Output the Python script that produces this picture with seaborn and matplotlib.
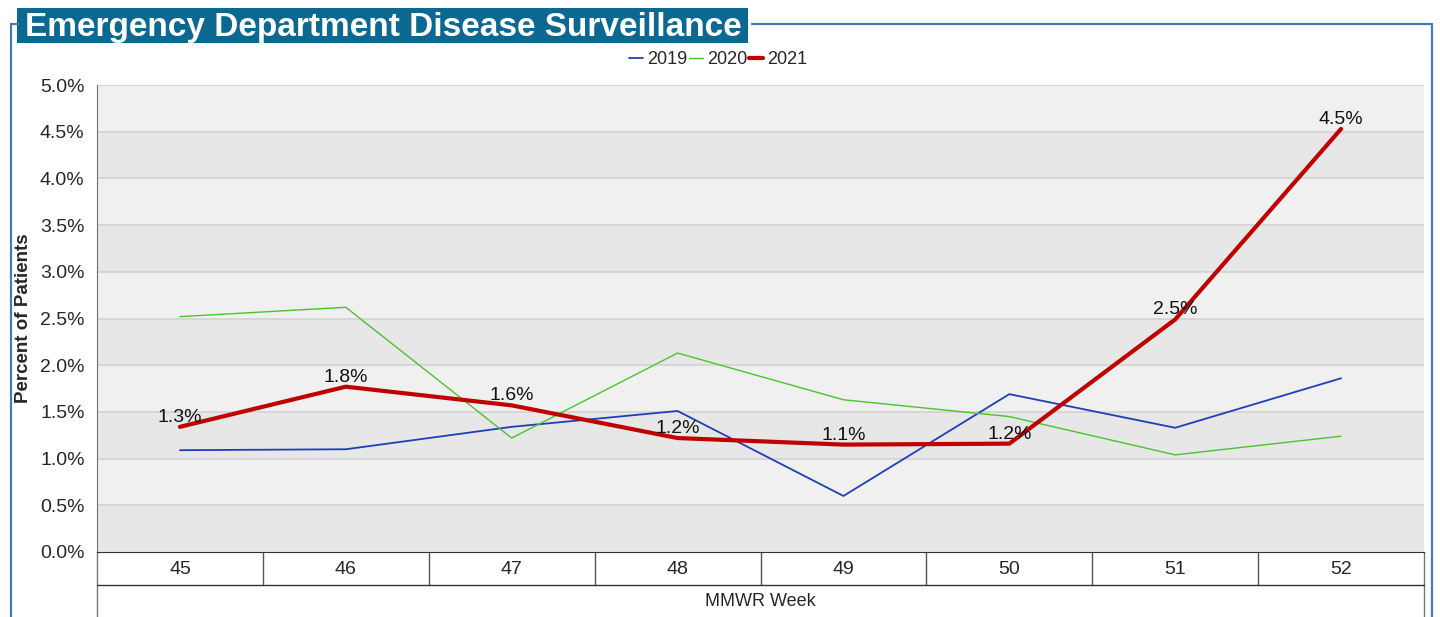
import matplotlib
matplotlib.use("Agg")
import matplotlib.pyplot as plt
import matplotlib.transforms as mtransforms
from matplotlib.patches import Rectangle
from matplotlib.lines import Line2D
import seaborn as sns
import pandas as pd

weeks = ["45", "46", "47", "48", "49", "50", "51", "52"]
y2019 = [1.09, 1.10, 1.34, 1.51, 0.60, 1.69, 1.33, 1.86]
y2020 = [2.52, 2.62, 1.22, 2.13, 1.63, 1.45, 1.04, 1.24]
y2021 = [1.34, 1.77, 1.57, 1.22, 1.15, 1.16, 2.49, 4.53]
labels2021 = ["1.3%", "1.8%", "1.6%", "1.2%", "1.1%", "1.2%", "2.5%", "4.5%"]
yticks = [0.0, 0.5, 1.0, 1.5, 2.0, 2.5, 3.0, 3.5, 4.0, 4.5, 5.0]
title = "Emergency Department Disease Surveillance"
xlabel = "MMWR Week"
ylabel = "Percent of Patients"

sns.set_style("white")
plt.rcParams["font.family"] = ["Liberation Sans", "DejaVu Sans"]

W, H = 1440, 617
fig = plt.figure(figsize=(W / 100, H / 100), dpi=100)
L, R, T, B = 97, 1424, 85, 552
ax = fig.add_axes([L / W, 1 - B / H, (R - L) / W, (B - T) / H])

x = list(range(len(weeks)))
df = pd.DataFrame({"x": x * 3,
                   "v": y2019 + y2020 + y2021,
                   "year": ["2019"] * 8 + ["2020"] * 8 + ["2021"] * 8})

# alternating bands
for i in range(len(yticks) - 1):
    c = "#e7e7e7" if i % 2 == 0 else "#f0f0f0"
    ax.axhspan(yticks[i], yticks[i + 1], color=c, zorder=0, lw=0)
for yv in yticks[1:]:
    ax.axhline(yv, color="#d2d2d2", lw=1.2, zorder=0.5)

colors = {"2019": "#1f3fb5", "2020": "#4cc32a", "2021": "#c00000"}
widths = {"2019": 1.3, "2020": 1.0, "2021": 3.0}
for yr in ["2019", "2020", "2021"]:
    sns.lineplot(data=df[df.year == yr], x="x", y="v", ax=ax, color=colors[yr],
                 lw=widths[yr], legend=False, zorder=3 if yr == "2021" else 2)

for xi, v, lab in zip(x, y2021, labels2021):
    ax.annotate(lab, (xi, v), xytext=(0, 3.6), textcoords="offset points",
                ha="center", va="baseline", fontsize=14, color="#111111", zorder=4)

ax.set_xlim(-0.5, len(weeks) - 0.5)
ax.set_ylim(0, 5)
ax.set_yticks(yticks)
ax.set_yticklabels([f"{t:.1f}%" for t in yticks], fontsize=14)
ax.tick_params(axis="y", length=8, width=1, color="#707070", direction="out", pad=1)
ax.set_xticks([])
ax.set_xlabel("")
ax.set_ylabel(ylabel, fontsize=13.5, fontweight="bold")
ax.yaxis.set_label_coords((32 - L) / (R - L), 0.5)
for s in ["top", "right"]:
    ax.spines[s].set_visible(False)
ax.spines["left"].set_color("#707070")
ax.spines["bottom"].set_color("#333333")

# category table below the axis
trans = mtransforms.blended_transform_factory(ax.transData, fig.transFigure)
yf = lambda p: 1 - p / H
row1 = 585
for xi in range(len(weeks) + 1):
    xb = xi - 0.5
    inner = 0 < xi < len(weeks)
    ybot = yf(row1) if inner else 0
    ax.add_line(Line2D([xb, xb], [yf(B), ybot], transform=trans,
                       color="#555555" if inner else "#777777", lw=1, clip_on=False))
ax.add_line(Line2D([-0.5, len(weeks) - 0.5], [yf(row1), yf(row1)], transform=trans,
                   color="#333333", lw=1, clip_on=False))
for xi, w in zip(x, weeks):
    ax.text(xi, yf(569.5), w, transform=trans, ha="center", va="center", fontsize=14)
ax.text((len(weeks) - 1) / 2, yf(601), xlabel, transform=trans, ha="center", va="center", fontsize=13)

# outer frame
fc = "#4a78b2"
fig.add_artist(Line2D([10.5 / W, 10.5 / W], [yf(24), 0], color=fc, lw=1.6))
fig.add_artist(Line2D([10.5 / W, 18 / W], [yf(24), yf(24)], color=fc, lw=1.6))
fig.add_artist(Line2D([752 / W, 1432 / W], [yf(24), yf(24)], color=fc, lw=1.6))
fig.add_artist(Line2D([1432 / W, 1432 / W], [yf(24), 0], color=fc, lw=1.6))

# title box
fig.add_artist(Rectangle((17 / W, yf(43)), (748 - 17) / W, 35 / H, transform=fig.transFigure,
                         facecolor="#0b6890", edgecolor="none"))
fig.text(25 / W, yf(27.5), title, ha="left", va="center", color="white",
         fontsize=24, fontweight="bold")

# legend
handles = [Line2D([], [], color=colors[y], lw=widths[y]) for y in ["2019", "2020", "2021"]]
fig.legend(handles, ["2019", "2020", "2021"], loc="center", bbox_to_anchor=(718 / W, yf(60)),
           ncol=3, frameon=False, fontsize=13, handlelength=0.8, handletextpad=0.2,
           columnspacing=0.1, borderpad=0)

fig.savefig("out.png", dpi=100)
